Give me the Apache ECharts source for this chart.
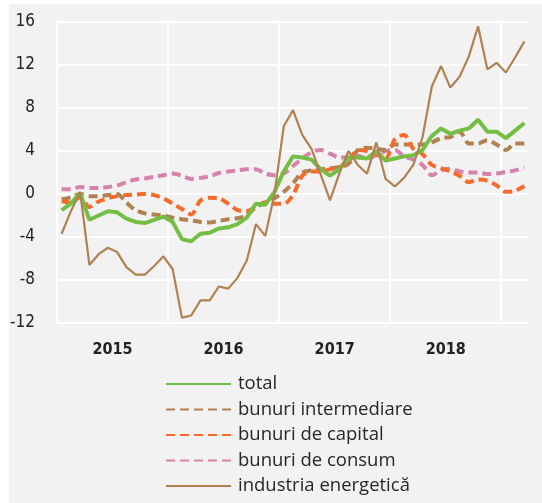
<!DOCTYPE html>
<html lang="ro">
<head>
  <meta charset="utf-8">
  <title>Productia industriala pe componente</title>
  <script type="text/javascript" src="https://cdn.jsdelivr.net/npm/echarts@6/dist/echarts.min.js"></script>
  <style type="text/css">
    * {
      margin: 0;
      padding: 0;
    }
    html, body {
      width: 542px;
      height: 503px;
      overflow: hidden;
      background: #fff;
    }
    #bg {
      position: absolute;
      left: 9px;
      top: 4px;
      right: 0;
      bottom: 0;
      background: #f2f2f2;
    }
    #chart {
      position: absolute;
      left: 0;
      top: 0;
      width: 542px;
      height: 503px;
    }
  </style>
</head>
<body>
  <div id="bg"></div>
  <div id="chart"></div>
  <script type="text/javascript">
    // luni: ian. 2015 - mar. 2019
    var months = [];
    for (var y = 2015; y <= 2019; y++) {
      for (var m = 1; m <= 12; m++) {
        if (y === 2019 && m > 3) break;
        months.push(y + '-' + (m < 10 ? '0' + m : m));
      }
    }
    var yearLabels = ['2015', '2016', '2017', '2018'];

    var total = [-1.5, -0.9, 0.1, -2.4, -2.0, -1.6, -1.7, -2.3, -2.6, -2.7, -2.4, -2.1, -2.6,
      -4.2, -4.4, -3.7, -3.6, -3.2, -3.1, -2.8, -2.2, -0.9, -1.0,
      0.2, 2.1, 3.5, 3.4, 3.2, 2.3, 1.7, 2.3, 3.4, 3.4, 3.3, 4.0, 3.1, 3.3,
      3.5, 3.6, 4.1, 5.4, 6.1, 5.6, 5.9, 6.1, 6.9, 5.8, 5.8, 5.2, 5.9, 6.6];
    var intermediare = [-0.5, -0.3, 0.0, -0.2, -0.2, -0.1, 0.0, -0.8, -1.5, -1.8, -1.9, -2.0, -2.2,
      -2.35, -2.45, -2.6, -2.65, -2.5, -2.35, -2.25, -2.0, -1.2, -0.8,
      -0.4, 0.2, 1.0, 2.0, 2.2, 2.3, 2.4, 2.5, 2.8, 4.1, 4.3, 4.2, 4.1, 4.6,
      4.6, 4.6, 4.6, 4.8, 5.2, 5.3, 5.8, 4.7, 4.7, 5.0, 4.6, 4.1, 4.7, 4.7];
    var capital = [-0.65, -0.8, -0.3, -1.2, -0.7, -0.4, -0.2, -0.1, -0.05, 0.0, -0.1, -0.4, -0.9,
      -1.4, -1.9, -0.6, -0.35, -0.4, -0.9, -1.5, -1.6, -1.2, -0.8,
      -0.9, -0.9, -0.1, 1.7, 2.1, 2.1, 2.3, 2.5, 3.0, 4.1, 4.0, 3.7, 3.3, 5.1,
      5.5, 4.2, 3.7, 2.7, 2.4, 2.1, 1.7, 1.1, 1.35, 1.25, 0.8, 0.2, 0.3, 0.75];
    var consum = [0.45, 0.45, 0.65, 0.55, 0.55, 0.65, 0.8, 1.1, 1.35, 1.45, 1.6, 1.75, 1.9,
      1.7, 1.4, 1.5, 1.65, 1.95, 2.1, 2.2, 2.3, 2.3, 1.9,
      1.75, 1.9, 2.6, 3.3, 3.9, 4.1, 3.75, 3.4, 3.4, 3.55, 3.3, 3.6, 4.0, 4.1,
      3.5, 3.2, 2.7, 1.75, 2.2, 2.35, 2.1, 2.0, 2.0, 1.85, 1.9, 2.05, 2.2, 2.45];
    var energie = [-3.7, -1.6, 0.2, -6.6, -5.6, -5.0, -5.4, -6.8, -7.5, -7.5, -6.7, -5.8, -7.0,
      -11.5, -11.3, -9.9, -9.9, -8.6, -8.8, -7.8, -6.2, -2.8, -3.9,
      0.0, 6.3, 7.8, 5.5, 4.2, 1.8, -0.6, 1.9, 4.0, 2.7, 1.9, 4.8, 1.4, 0.7,
      1.5, 2.7, 5.3, 10.0, 11.9, 9.9, 10.9, 12.8, 15.6, 11.6, 12.2, 11.3, 12.7, 14.2];

    // fiecare luna e centrata in intervalul ei (ca in Excel)
    function toPoints(values) {
      return values.map(function (v, i) {
        return [i + 0.5, v];
      });
    }

    var dash = [9, 5];
    var axisFont = '"Liberation Sans Narrow", "DejaVu Sans Condensed", "Noto Sans", sans-serif';

    var option = {
      animation: false,
      grid: {
        left: 57,
        right: 13,
        top: 22,
        bottom: 180
      },
      legend: {
        orient: 'vertical',
        left: 165,
        top: 374,
        padding: 0,
        itemWidth: 65,
        itemHeight: 14,
        itemGap: 5.5,
        // fara cerculete in legenda, doar linia
        itemStyle: { color: 'transparent', borderWidth: 0, opacity: 0 },
        textStyle: {
          fontFamily: '"Open Sans", sans-serif',
          fontSize: 18.5,
          lineHeight: 20,
          color: '#262626',
          padding: [0, 0, 0, 2]
        },
        data: ['total', 'bunuri intermediare', 'bunuri de capital', 'bunuri de consum', 'industria energetică']
      },
      xAxis: [
        {
          type: 'value',
          min: 0,
          max: months.length,
          interval: 12,
          axisLine: { show: false },
          axisTick: { show: false },
          axisLabel: { show: false },
          splitLine: {
            show: true,
            showMaxLine: false,
            lineStyle: { color: '#ffffff', width: 2 }
          }
        },
        {
          type: 'value',
          position: 'bottom',
          min: 0,
          max: months.length,
          interval: 6,
          axisLine: { show: false },
          axisTick: { show: false },
          splitLine: { show: false },
          axisLabel: {
            margin: 19,
            fontFamily: axisFont,
            fontSize: 16,
            fontWeight: 'bold',
            color: '#222',
            showMaxLabel: false,
            formatter: function (v) {
              var k = (v - 6) / 12;
              return (k === Math.round(k) && yearLabels[k]) ? yearLabels[k] : '';
            }
          }
        }
      ],
      yAxis: {
        type: 'value',
        min: -12,
        max: 16,
        interval: 4,
        axisLine: { show: false },
        axisTick: { show: false },
        axisLabel: {
          margin: 22,
          fontFamily: axisFont,
          fontSize: 17,
          color: '#222'
        },
        splitLine: {
          lineStyle: { color: '#ffffff', width: 2 }
        }
      },
      series: [
        {
          name: 'total',
          type: 'line',
          symbol: 'none',
          data: toPoints(total),
          lineStyle: { color: '#74be43', width: 4 },
          itemStyle: { color: '#74be43' },
          z: 6
        },
        {
          name: 'bunuri intermediare',
          type: 'line',
          symbol: 'none',
          smooth: 0.3,
          data: toPoints(intermediare),
          lineStyle: { color: '#b08252', width: 4, type: dash },
          itemStyle: { color: '#b08252' },
          z: 3
        },
        {
          name: 'bunuri de capital',
          type: 'line',
          symbol: 'none',
          smooth: 0.3,
          data: toPoints(capital),
          lineStyle: { color: '#f66a2a', width: 4, type: dash },
          itemStyle: { color: '#f66a2a' },
          z: 4
        },
        {
          name: 'bunuri de consum',
          type: 'line',
          symbol: 'none',
          smooth: 0.3,
          data: toPoints(consum),
          lineStyle: { color: '#d682ac', width: 4, type: dash },
          itemStyle: { color: '#d682ac' },
          z: 2
        },
        {
          name: 'industria energetică',
          type: 'line',
          symbol: 'none',
          data: toPoints(energie),
          lineStyle: { color: '#b08252', width: 2.2 },
          itemStyle: { color: '#b08252' },
          z: 7
        }
      ]
    };

    var chart = echarts.init(document.getElementById('chart'), null, { renderer: 'canvas' });
    chart.setOption(option);
  </script>
</body>
</html>
